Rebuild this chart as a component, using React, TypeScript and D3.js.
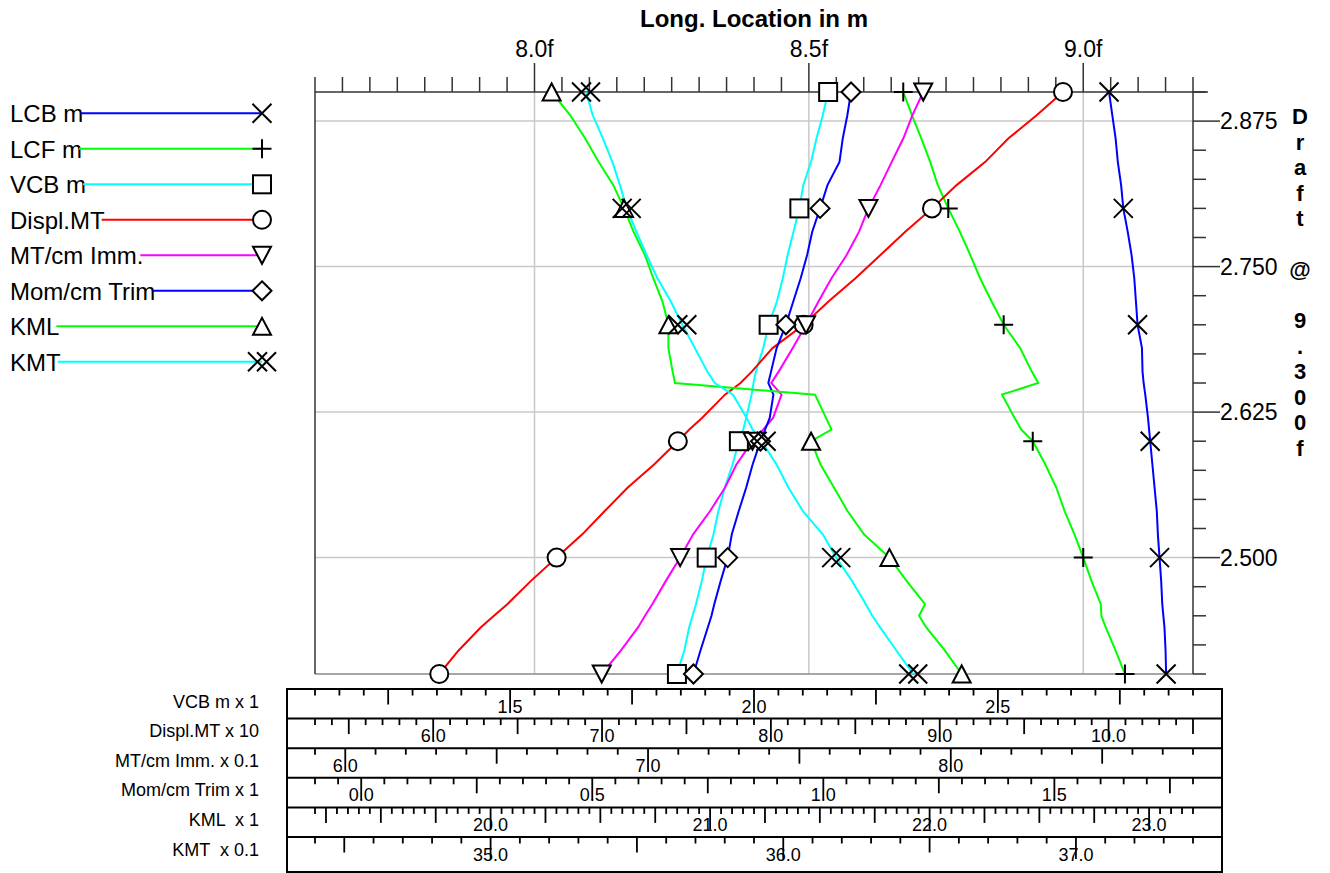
import React from 'react';
import * as d3 from 'd3';

// ---------- data ----------
const drafts = [2.40, 2.42, 2.44, 2.45, 2.46, 2.48, 2.50, 2.52, 2.54, 2.56, 2.58, 2.60, 2.61, 2.62, 2.64, 2.65, 2.66, 2.68, 2.70, 2.72, 2.74, 2.76, 2.78, 2.80, 2.82, 2.84, 2.86, 2.88, 2.90];
const markerDrafts = [2.4, 2.5, 2.6, 2.7, 2.8, 2.9];

const lcb = [9.151, 9.150, 9.148, 9.146, 9.144, 9.142, 9.139, 9.136, 9.134, 9.130, 9.126, 9.122, 9.120, 9.118, 9.113, 9.110, 9.108, 9.107, 9.099, 9.096, 9.093, 9.088, 9.081, 9.073, 9.069, 9.063, 9.059, 9.053, 9.047];
const lcf = [9.076, 9.059, 9.041, 9.033, 9.032, 9.015, 9.000, 8.984, 8.966, 8.951, 8.931, 8.908, 8.887, 8.875, 8.852, 8.918, 8.906, 8.885, 8.855, 8.833, 8.812, 8.794, 8.775, 8.754, 8.735, 8.721, 8.705, 8.688, 8.672];
const vcb = [1.842, 1.857, 1.867, 1.874, 1.881, 1.893, 1.903, 1.917, 1.927, 1.940, 1.956, 1.969, 1.978, 1.984, 1.995, 1.999, 2.004, 2.019, 2.030, 2.047, 2.059, 2.069, 2.081, 2.093, 2.101, 2.117, 2.128, 2.141, 2.152];
const displ = [6.036, 6.149, 6.281, 6.360, 6.439, 6.579, 6.731, 6.883, 7.016, 7.151, 7.308, 7.449, 7.517, 7.592, 7.728, 7.820, 7.888, 8.010, 8.194, 8.341, 8.501, 8.649, 8.796, 8.954, 9.100, 9.270, 9.406, 9.574, 9.730];
const mtcm = [6.847, 6.910, 6.967, 6.990, 7.014, 7.059, 7.106, 7.149, 7.205, 7.254, 7.292, 7.345, 7.380, 7.413, 7.441, 7.407, 7.432, 7.478, 7.522, 7.563, 7.606, 7.656, 7.697, 7.728, 7.768, 7.805, 7.843, 7.873, 7.909];
const momcm = [0.719, 0.734, 0.750, 0.758, 0.764, 0.778, 0.793, 0.802, 0.817, 0.833, 0.847, 0.864, 0.874, 0.884, 0.892, 0.881, 0.887, 0.899, 0.919, 0.935, 0.951, 0.965, 0.976, 0.993, 1.009, 1.035, 1.042, 1.052, 1.060];
const kml = [22.146, 22.070, 21.985, 21.952, 21.979, 21.895, 21.817, 21.701, 21.626, 21.565, 21.503, 21.460, 21.553, 21.528, 21.478, 20.840, 20.829, 20.810, 20.810, 20.783, 20.741, 20.703, 20.651, 20.608, 20.559, 20.492, 20.431, 20.363, 20.278];
const kmt = [36.444, 36.387, 36.331, 36.304, 36.282, 36.235, 36.181, 36.135, 36.067, 36.018, 35.977, 35.926, 35.895, 35.875, 35.828, 35.766, 35.740, 35.698, 35.655, 35.616, 35.570, 35.533, 35.498, 35.465, 35.442, 35.416, 35.384, 35.349, 35.326];

const seriesNames = ['LCB m', 'LCF m', 'VCB m', 'Displ.MT', 'MT/cm Imm.', 'Mom/cm Trim', 'KML', 'KMT'];
const seriesValues = [lcb, lcf, vcb, displ, mtcm, momcm, kml, kmt];
const seriesColors = ['#0000ff', '#00ff00', '#00ffff', '#ff0000', '#ff00ff', '#0000ff', '#00ff00', '#00ffff'];
const seriesMarkers = ['x', 'plus', 'square', 'circle', 'tridown', 'diamond', 'triup', 'xx'];
// -1 = main long. location axis, otherwise index of bottom scale row
const seriesScaleRow = [-1, -1, 0, 1, 2, 3, 4, 5];

const xDomain = [7.6, 9.2];
const yDomain = [2.4, 2.9];
const xTickSteps = [0.05, 0.5];
const yTickSteps = [0.025, 0.125];

const rowLabels = ['VCB m x 1', 'Displ.MT x 10', 'MT/cm Imm. x 0.1', 'Mom/cm Trim x 1', 'KML  x 1', 'KMT  x 0.1'];
const rowDomains = [[1.1, 2.9], [5.3, 10.5], [5.9, 8.8], [-0.1, 1.8], [19.2, 23.2], [34.4, 37.4]];
const rowSteps = [[0.05, 0.25, 0.5], [0.1, 0.5, 1], [0.1, 0.5, 1], [0.05, 0.25, 0.5], [0.05, 0.25, 1], [0.1, 0.5, 1]];

const title = 'Long. Location in m';
const sideTitle = 'Draft @ 9.300f';

// ---------- layout ----------
const W = 1330, H = 873;
const PL = 315, PR = 1193, PT = 92, PB = 674;
const FONT = "'Liberation Sans', Arial, Helvetica, sans-serif";
const BOX_L = 287, BOX_R = 1222, BOX_T = 689, ROW_H = 29.6, BOX_B = 872;

const x = d3.scaleLinear().domain(xDomain).range([PL, PR]);
const y = d3.scaleLinear().domain(yDomain).range([PB, PT]);
const rowScales = rowDomains.map((d) => d3.scaleLinear().domain(d).range([PL, PR]));

function isMult(v: number, step: number) {
  const r = v / step;
  return Math.abs(r - Math.round(r)) < 1e-6;
}
function tickValues(lo: number, hi: number, step: number) {
  const out: number[] = [];
  const a = Math.ceil(lo / step - 1e-9), b = Math.floor(hi / step + 1e-9);
  for (let i = a; i <= b; i++) out.push(+(i * step).toFixed(6));
  return out;
}

function measure(text: string, font: string) {
  const c = document.createElement('canvas');
  const ctx = c.getContext('2d');
  if (!ctx) return text.length * 12;
  ctx.font = font;
  return ctx.measureText(text).width;
}

function Marker({ type, cx, cy }: { type: string; cx: number; cy: number }) {
  const st = { stroke: '#000', strokeWidth: 2, fill: '#fff' };
  const s = 9.5;
  switch (type) {
    case 'x':
      return <path d={`M${cx - s},${cy - s}L${cx + s},${cy + s}M${cx - s},${cy + s}L${cx + s},${cy - s}`} {...st} fill="none" />;
    case 'xx':
      return (
        <path
          d={`M${cx - 4.5 - s},${cy - s}L${cx - 4.5 + s},${cy + s}M${cx - 4.5 - s},${cy + s}L${cx - 4.5 + s},${cy - s}` +
            `M${cx + 4.5 - s},${cy - s}L${cx + 4.5 + s},${cy + s}M${cx + 4.5 - s},${cy + s}L${cx + 4.5 + s},${cy - s}`}
          {...st}
          fill="none"
        />
      );
    case 'plus':
      return <path d={`M${cx - s},${cy}H${cx + s}M${cx},${cy - s}V${cy + s}`} {...st} fill="none" />;
    case 'square':
      return <rect x={cx - 9} y={cy - 9} width={18} height={18} {...st} />;
    case 'circle':
      return <circle cx={cx} cy={cy} r={9} {...st} />;
    case 'tridown':
      return <polygon points={`${cx - 9},${cy - 8.5} ${cx + 9},${cy - 8.5} ${cx},${cy + 8.5}`} {...st} />;
    case 'triup':
      return <polygon points={`${cx - 9},${cy + 8.5} ${cx + 9},${cy + 8.5} ${cx},${cy - 8.5}`} {...st} />;
    case 'diamond':
      return <polygon points={`${cx},${cy - 9.5} ${cx + 9.5},${cy} ${cx},${cy + 9.5} ${cx - 9.5},${cy}`} {...st} />;
    default:
      return null;
  }
}

function seriesX(si: number) {
  const r = seriesScaleRow[si];
  return r < 0 ? x : rowScales[r];
}

export default function App() {
  const xMinor = tickValues(xDomain[0], xDomain[1], xTickSteps[0]);
  const yMinor = tickValues(yDomain[0], yDomain[1], yTickSteps[0]);
  const xMajor = xMinor.filter((v) => isMult(v, xTickSteps[1]));
  const yMajor = yMinor.filter((v) => isMult(v, yTickSteps[1]));

  const legendFont = `24px ${FONT}`;

  return (
    <svg width={W} height={H} style={{ position: 'absolute', left: 0, top: 0, background: '#fff' }} fontFamily={FONT}>
      <rect x={0} y={0} width={W} height={H} fill="#fff" />

      {/* grid */}
      {xMajor.map((v) => (
        <line key={'gx' + v} x1={x(v)} x2={x(v)} y1={PT} y2={PB} stroke="#c8c8c8" strokeWidth={1.5} />
      ))}
      {yMajor.map((v) => (
        <line key={'gy' + v} x1={PL} x2={PR} y1={y(v)} y2={y(v)} stroke="#c8c8c8" strokeWidth={1.5} />
      ))}

      {/* frame */}
      <line x1={PL} x2={PR} y1={PB} y2={PB} stroke="#888" strokeWidth={1.5} />
      <line x1={PL} x2={PL} y1={PT} y2={PB} stroke="#333" strokeWidth={1.5} />
      <line x1={PR} x2={PR} y1={PT} y2={PB} stroke="#333" strokeWidth={1.5} />
      <line x1={PL} x2={1208} y1={PT} y2={PT} stroke="#333" strokeWidth={1.5} />

      {/* top axis */}
      {xMinor.map((v) => {
        const major = isMult(v, xTickSteps[1]);
        return <line key={'tx' + v} x1={x(v)} x2={x(v)} y1={PT} y2={major ? 63 : 77} stroke="#333" strokeWidth={1.5} />;
      })}
      {xMajor.map((v) => (
        <text key={'lx' + v} x={x(v)} y={56.5} textAnchor="middle" fontSize={23}>
          {v.toFixed(1) + 'f'}
        </text>
      ))}
      <text x={(PL + PR) / 2} y={26.5} textAnchor="middle" fontSize={24} fontWeight="bold">
        {title}
      </text>

      {/* right axis */}
      {yMinor.map((v) => {
        const major = isMult(v, yTickSteps[1]);
        return <line key={'ty' + v} x1={PR} x2={major ? 1220 : 1206} y1={y(v)} y2={y(v)} stroke="#333" strokeWidth={1.5} />;
      })}
      {yMajor.map((v) => (
        <text key={'ly' + v} x={1220} y={y(v) + 8} fontSize={23}>
          {v.toFixed(3)}
        </text>
      ))}
      {sideTitle.split('').map((ch, i) => (
        <text key={'st' + i} x={1300} y={116 + i * 25.5 + 8} textAnchor="middle" fontSize={22} fontWeight="bold">
          {ch}
        </text>
      ))}

      {/* series lines */}
      {seriesValues.map((vals, si) => {
        const sx = seriesX(si);
        const line = d3
          .line<number>()
          .x((v) => sx(v))
          .y((_, i) => y(drafts[i]));
        return <path key={'s' + si} d={line(vals) || ''} fill="none" stroke={seriesColors[si]} strokeWidth={2} />;
      })}
      {/* markers */}
      {seriesValues.map((vals, si) => {
        const sx = seriesX(si);
        return markerDrafts.map((d) => {
          const idx = drafts.findIndex((dd) => Math.abs(dd - d) < 1e-6);
          return <Marker key={'m' + si + '_' + d} type={seriesMarkers[si]} cx={sx(vals[idx])} cy={y(d)} />;
        });
      })}

      {/* legend */}
      {seriesNames.map((name, i) => {
        const ly = 113.3 + i * 35.5;
        const tw = measure(name, legendFont);
        return (
          <g key={'lg' + i}>
            <text x={10} y={ly + 9} fontSize={24}>
              {name}
            </text>
            <line x1={10 + tw - 3} x2={262} y1={ly} y2={ly} stroke={seriesColors[i]} strokeWidth={2} />
            <Marker type={seriesMarkers[i]} cx={262} cy={ly} />
          </g>
        );
      })}

      {/* bottom scale rows */}
      <rect x={BOX_L} y={BOX_T} width={BOX_R - BOX_L} height={BOX_B - BOX_T} fill="none" stroke="#000" strokeWidth={2} />
      {rowLabels.map((lab, r) => {
        const top = BOX_T + r * ROW_H;
        const sc = rowScales[r];
        const [minor, mid, major] = rowSteps[r];
        const ticks = tickValues(rowDomains[r][0], rowDomains[r][1], minor);
        return (
          <g key={'row' + r}>
            {r > 0 && <line x1={BOX_L} x2={BOX_R} y1={top} y2={top} stroke="#000" strokeWidth={2} />}
            <text x={259} y={top + 18.5} textAnchor="end" fontSize={18} style={{ whiteSpace: 'pre' }}>
              {lab}
            </text>
            {ticks.map((v) => {
              const isMaj = isMult(v, major);
              const isMid = isMult(v, mid);
              const len = isMaj ? 22 : isMid ? 15.5 : 6.5;
              return <line key={'rt' + v} x1={sc(v)} x2={sc(v)} y1={top} y2={top + len} stroke="#000" strokeWidth={1.8} />;
            })}
            {ticks
              .filter((v) => isMult(v, major))
              .map((v) => (
                <text key={'rl' + v} x={sc(v)} y={top + 23.5} textAnchor="middle" fontSize={18}>
                  {v.toFixed(1)}
                </text>
              ))}
          </g>
        );
      })}
    </svg>
  );
}
